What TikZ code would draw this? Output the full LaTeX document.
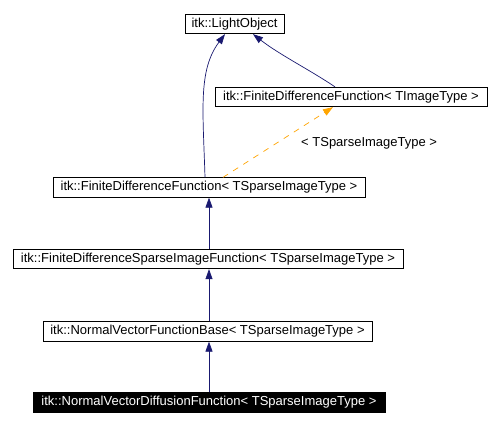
\documentclass[tikz,border=0pt]{standalone}
\usepackage{fontspec}
\setmainfont{Liberation Sans}
\usetikzlibrary{arrows.meta}
\definecolor{edgeblue}{HTML}{191970}
\definecolor{edgeorange}{HTML}{FFA500}
\begin{document}
\begin{tikzpicture}[x=1pt,y=-1pt,
  cls/.style={draw=black, line width=0.8pt, fill=white, inner sep=0pt, minimum height=19.5pt, font=\fontsize{13}{15}\selectfont},
  inh/.style={draw=edgeblue, line width=0.7pt, -{Triangle[width=7pt,length=10pt]}},
  tmpl/.style={draw=edgeorange, line width=0.7pt, dash pattern=on 6pt off 6pt, -{Triangle[width=7pt,length=10pt]}}]
\useasboundingbox (0,0) rectangle (501,427);
\fill[white] (0,0) rectangle (501,427);
\node[cls, minimum width=99pt] (LO) at (234.5,24) {itk::LightObject};
\node[cls, minimum width=272pt] (FDFI) at (351,97) {itk::FiniteDifferenceFunction< TImageType >};
\node[cls, minimum width=312pt] (FDFS) at (209,187.5) {itk::FiniteDifferenceFunction< TSparseImageType >};
\node[cls, minimum width=390pt] (FDSIF) at (208,259) {itk::FiniteDifferenceSparseImageFunction< TSparseImageType >};
\node[cls, minimum width=329pt] (NVFB) at (207.5,331.5) {itk::NormalVectorFunctionBase< TSparseImageType >};
\node[cls, fill=black, text=white, minimum width=352pt] (NVDF) at (209,402.5) {itk::NormalVectorDiffusionFunction< TSparseImageType >};
\node[font=\fontsize{13}{15}\selectfont, anchor=west, inner sep=0pt] (lbl) at (301,143) {< TSparseImageType >};
\draw[inh] (FDFS.north -| 205,0) .. controls (203,110) and (198,70) .. (LO.south -| 225,0);
\draw[inh] (FDFI.north -| 335,0) .. controls (310,70) and (280,55) .. (LO.south -| 253,0);
\draw[tmpl] (FDFS.north -| 223,0) -- (FDFI.south -| 333,0);
\draw[inh] (FDSIF.north -| 209,0) -- (FDFS.south -| 209,0);
\draw[inh] (NVFB.north -| 209,0) -- (FDSIF.south -| 209,0);
\draw[inh] (NVDF.north -| 209,0) -- (NVFB.south -| 209,0);
\end{tikzpicture}
\end{document}
